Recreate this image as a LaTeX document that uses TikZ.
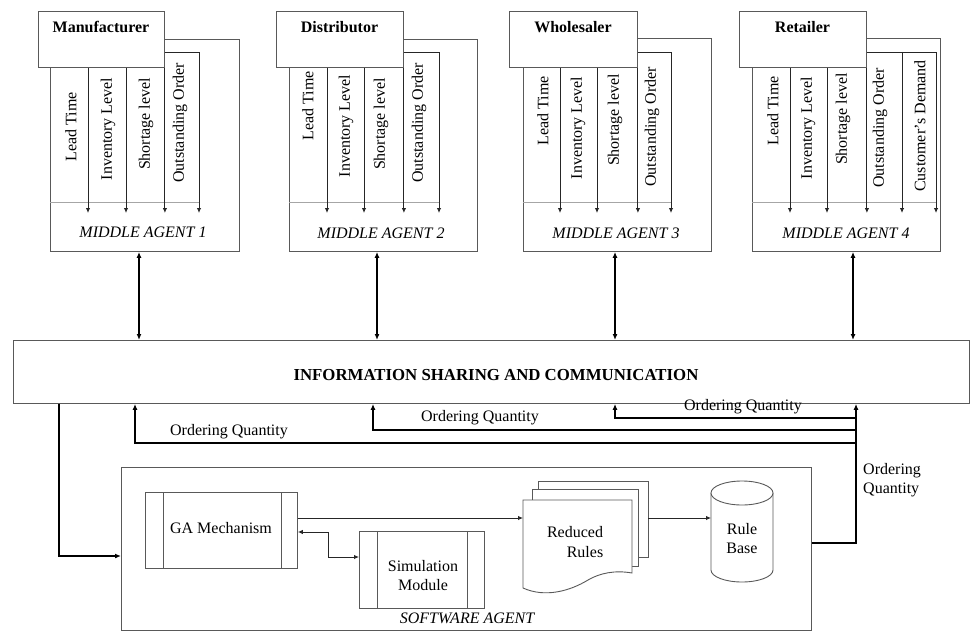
\documentclass[tikz,border=0pt]{standalone}
\usepackage{fontspec}
\setmainfont{Liberation Serif}
\usetikzlibrary{arrows.meta,calc}
\begin{document}
\begin{tikzpicture}[x=1pt,y=-1pt,
  every node/.style={font=\fontsize{16}{19}\selectfont, inner sep=0pt},
  frame/.style={draw=black!65, line width=0.9pt},
  boxnw/.style={frame, anchor=north west},
  topbox/.style={frame, fill=white, anchor=north west},
  ghost/.style={anchor=north west},
  sig/.style={draw=black!85, line width=0.9pt, -{Latex[length=5pt,width=4.5pt]}},
  sigboth/.style={draw=black!85, line width=0.9pt, {Latex[length=5pt,width=4.5pt]}-{Latex[length=5pt,width=4.5pt]}},
  oq/.style={draw=black, line width=1.8pt, -{Latex[length=6pt,width=5pt]}},
  dblarr/.style={draw=black, line width=1.6pt, {Latex[length=6pt,width=5pt]}-{Latex[length=6pt,width=5pt]}},
  vlab/.style={rotate=90},
  bold/.style={font=\fontsize{16}{19}\selectfont\bfseries},
  mid/.style={font=\fontsize{16}{19}\selectfont\itshape},
  sep/.style={draw=black!35, line width=0.8pt},
]
\useasboundingbox (0,0) rectangle (971,631);

% ---------- information box ----------
\node[boxnw, minimum width=956pt, minimum height=63pt] (info) at (13,340) {};
\node[font=\fontsize{16.8}{19}\selectfont\bfseries] at (496,375) {INFORMATION SHARING AND COMMUNICATION};

% ---------- helper coordinates ----------
\coordinate (y52) at (0,52);
\coordinate (y202) at (0,202);

% ---------- Agent 1 ----------
\node[boxnw, minimum width=189pt, minimum height=212pt] (ma1) at (50,39) {};
\node[topbox, minimum width=126pt, minimum height=56pt] (man) at (38,11) {};
\node[bold] at (101,27) {Manufacturer};
\draw[sep] (ma1.west |- y202) -- (199,202);
\coordinate (a1a) at (88,213);
\coordinate (a1b) at (126,213);
\coordinate (a1c) at (164,213);
\coordinate (a1d) at (199,213);
\draw[sig] (man.south -| a1a) -- (a1a);
\draw[sig] (man.south -| a1b) -- (a1b);
\draw[sig] (man.south east) -- (man.south east |- a1c);
\draw[sig] (man.east |- y52) -| (a1d);
\node[vlab] at (71,127) {Lead Time};
\node[vlab] at (108,129) {Inventory Level};
\node[vlab] at (146,124) {Shortage level};
\node[vlab] at (180,123) {Outstanding Order};
\node[mid] at (143,232) {MIDDLE AGENT 1};

% ---------- Agent 2 ----------
\node[boxnw, minimum width=188pt, minimum height=212pt] (ma2) at (289,39) {};
\node[topbox, minimum width=127pt, minimum height=56pt] (dis) at (276,11) {};
\node[bold] at (339.5,27) {Distributor};
\draw[sep] (ma2.west |- y202) -- (439,202);
\coordinate (a2a) at (327,213);
\coordinate (a2b) at (364,213);
\coordinate (a2c) at (403,213);
\coordinate (a2d) at (439,213);
\draw[sig] (dis.south -| a2a) -- (a2a);
\draw[sig] (dis.south -| a2b) -- (a2b);
\draw[sig] (dis.south east) -- (dis.south east |- a2c);
\draw[sig] (dis.east |- y52) -| (a2d);
\node[vlab] at (308,106) {Lead Time};
\node[vlab] at (346,126) {Inventory Level};
\node[vlab] at (381,124) {Shortage level};
\node[vlab] at (419,123) {Outstanding Order};
\node[mid] at (381,233) {MIDDLE AGENT 2};

% ---------- Agent 3 ----------
\node[boxnw, minimum width=188pt, minimum height=213pt] (ma3) at (523,38) {};
\node[topbox, minimum width=128pt, minimum height=56pt] (who) at (509,11) {};
\node[bold] at (573,27) {Wholesaler};
\draw[sep] (ma3.west |- y202) -- (671,202);
\coordinate (a3a) at (560,213);
\coordinate (a3b) at (597,213);
\coordinate (a3c) at (637,213);
\coordinate (a3d) at (671,213);
\draw[sig] (who.south -| a3a) -- (a3a);
\draw[sig] (who.south -| a3b) -- (a3b);
\draw[sig] (who.south east) -- (who.south east |- a3c);
\draw[sig] (who.east |- y52) -| (a3d);
\node[vlab] at (543,111) {Lead Time};
\node[vlab] at (578,128) {Inventory Level};
\node[vlab] at (615,120) {Shortage level};
\node[vlab] at (652,127) {Outstanding Order};
\node[mid] at (616,233) {MIDDLE AGENT 3};

% ---------- Agent 4 ----------
\node[boxnw, minimum width=188pt, minimum height=213pt] (ma4) at (752,38) {};
\node[topbox, minimum width=127pt, minimum height=56pt] (ret) at (739,11) {};
\node[bold] at (802.5,27) {Retailer};
\draw[sep] (ma4.west |- y202) -- (936,202);
\coordinate (a4a) at (790,213);
\coordinate (a4b) at (827,213);
\coordinate (a4c) at (866,213);
\coordinate (a4d) at (902,213);
\coordinate (a4e) at (936,213);
\draw[sig] (ret.south -| a4a) -- (a4a);
\draw[sig] (ret.south -| a4b) -- (a4b);
\draw[sig] (ret.south east) -- (ret.south east |- a4c);
\draw[sig] (ret.east |- y52) -| (a4e);
\draw[sig] (a4d |- y52) -- (a4d);
\node[vlab] at (773,111) {Lead Time};
\node[vlab] at (808,128) {Inventory Level};
\node[vlab] at (843,119) {Shortage level};
\node[vlab] at (880,128) {Outstanding Order};
\node[vlab] at (920,126) {Customer's Demand};
\node[mid] at (846,233) {MIDDLE AGENT 4};

% ---------- middle agents <-> information ----------
\coordinate (d1) at (139,0);
\coordinate (d2) at (377,0);
\coordinate (d3) at (615,0);
\coordinate (d4) at (853,0);
\draw[dblarr] (ma1.south -| d1) -- (info.north -| d1);
\draw[dblarr] (ma2.south -| d2) -- (info.north -| d2);
\draw[dblarr] (ma3.south -| d3) -- (info.north -| d3);
\draw[dblarr] (ma4.south -| d4) -- (info.north -| d4);

% ---------- software agent ----------
\node[boxnw, minimum width=690pt, minimum height=163pt] (sa) at (121,467) {};
\node[mid] at (467,618) {SOFTWARE AGENT};

\node[boxnw, minimum width=152pt, minimum height=76pt] (ga) at (145,492) {};
\draw[frame] ([xshift=18pt]ga.north west) -- ([xshift=18pt]ga.south west);
\draw[frame] ([xshift=-16pt]ga.north east) -- ([xshift=-16pt]ga.south east);
\node at (221,528) {GA Mechanism};

\node[boxnw, minimum width=125pt, minimum height=77pt] (sim) at (359,531) {};
\draw[frame] ([xshift=18pt]sim.north west) -- ([xshift=18pt]sim.south west);
\draw[frame] ([xshift=-17pt]sim.north east) -- ([xshift=-17pt]sim.south east);
\node[align=center] at (423,576) {Simulation\\Module};

% reduced rules (multi-document)
\draw[frame] (538,489) -- (538,481) -- (648,481) -- (648,557) -- (638,557);
\draw[frame, fill=white] (532,500) -- (532,489) -- (638,489) -- (638,566) -- (632,566);
\draw[frame, fill=white] (523,588) -- (523,500) -- (632,500) -- (632,573)
   .. controls (615,570) and (600,573) .. (588,580)
   .. controls (570,591) and (545,598) .. (523,588) -- cycle;
\node[ghost, minimum width=109pt, minimum height=90pt] (rr) at (523,500) {};
\node[ghost, minimum width=110pt, minimum height=76pt] (rr3) at (538,481) {};
\node at (575,532) {Reduced};
\node at (585,552) {Rules};

% rule base (cylinder)
\node[ghost, minimum width=62pt, minimum height=101pt] (rb) at (711,481) {};
\draw[frame, fill=white] (711,493) -- (711,570) arc[start angle=180, end angle=360, x radius=31pt, y radius=12pt] -- (773,493);
\draw[frame, fill=white] (742,493) ellipse [x radius=31pt, y radius=12pt];
\node[align=center] at (742,539) {Rule\\Base};

% internal connectors
\coordinate (y518) at (0,518);
\coordinate (y532) at (0,532);
\coordinate (k1) at (328,557);
\draw[sig] (ga.east |- y518) -- (rr.west |- y518);
\draw[sig] (rr3.east |- y518) -- (rb.west |- y518);
\draw[sigboth] (ga.east |- y532) -| (k1) -- (sim.west |- k1);

% ---------- ordering quantity ----------
\coordinate (t) at (856,0);
\coordinate (y543) at (0,543);
\coordinate (b1) at (856,418);
\coordinate (b2) at (856,430);
\coordinate (b3) at (856,443);
\coordinate (o1) at (615,0);
\coordinate (o2) at (373,0);
\coordinate (o3) at (135,0);
\coordinate (lx) at (59,556);
\draw[oq] (sa.east |- y543) -| (info.south -| t);
\draw[oq] (b1) -| (info.south -| o1);
\draw[oq] (b2) -| (info.south -| o2);
\draw[oq] (b3) -| (info.south -| o3);
\draw[oq] (info.south -| lx) |- (sa.west |- lx);
\node at (743,407) {Ordering Quantity};
\node at (480,418) {Ordering Quantity};
\node at (229,432) {Ordering Quantity};
\node[anchor=west, align=left] at (863,480) {Ordering\\Quantity};
\end{tikzpicture}
\end{document}
